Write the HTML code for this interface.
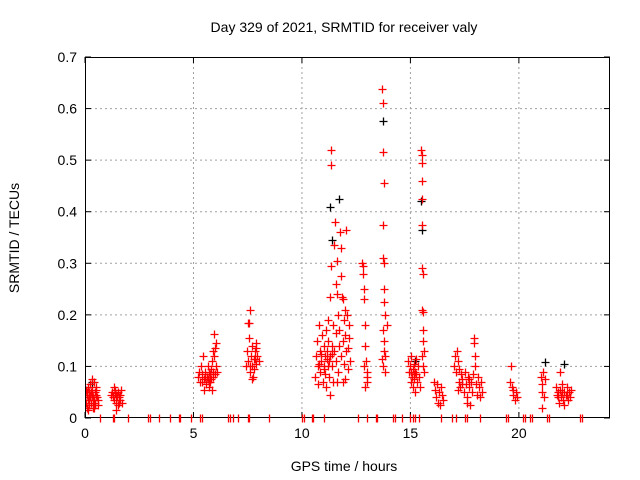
<!DOCTYPE html>
<html><head><meta charset="utf-8">
<style>
html,body{margin:0;padding:0;background:#fff;}
svg{display:block;font-family:"Liberation Sans",sans-serif;}
</style></head>
<body>
<svg id="chart" width="640" height="480">
<text x="344" y="32" text-anchor="middle" font-size="14">Day 329 of 2021, SRMTID for receiver valy</text>
<text x="344" y="471" text-anchor="middle" font-size="14">GPS time / hours</text>
<text x="19" y="238" text-anchor="middle" font-size="14" transform="rotate(-90 19 238)">SRMTID / TECUs</text>
<g id="grid"></g><g id="marks"></g><g id="axes"></g><g id="zeros"></g>
</svg>
<script>
const xTicks=[0,5,10,15,20];
const yTicks=[0,0.1,0.2,0.3,0.4,0.5,0.6,0.7];
const yTickLabels=["0","0.1","0.2","0.3","0.4","0.5","0.6","0.7"];
const redPoints=[
[0.02,0.04],[0.05,0.03],[0.05,0.055],[0.08,0.045],[0.1,0.02],[0.12,0.06],[0.15,0.035],[0.18,0.05],[0.2,0.025],[0.22,0.04],[0.25,0.065],[0.28,0.03],[0.3,0.045],[0.32,0.055],[0.35,0.02],[0.38,0.04],[0.4,0.035],[0.42,0.07],[0.45,0.05],[0.48,0.03],[0.5,0.045],[0.52,0.06],[0.55,0.04],[0.58,0.025],[0.6,0.035],[0.15,0.015],[0.3,0.075],[0.4,0.02],[0.1,0.05],[0.2,0.04],[0.27,0.05],[0.35,0.035],[0.45,0.025],[0.5,0.055],[0.0,0.05],[0.25,0.045],
[1.2,0.045],[1.25,0.05],[1.3,0.04],[1.32,0.06],[1.35,0.035],[1.4,0.055],[1.42,0.045],[1.45,0.03],[1.5,0.05],[1.52,0.025],[1.55,0.04],[1.58,0.03],[1.62,0.035],[1.65,0.055],[1.7,0.03],[1.45,0.015],[1.38,0.048],[1.48,0.04],[1.6,0.045],
[5.2,0.08],[5.25,0.09],[5.3,0.07],[5.35,0.1],[5.4,0.085],[5.45,0.12],[5.5,0.075],[5.55,0.09],[5.6,0.065],[5.62,0.08],[5.65,0.1],[5.7,0.07],[5.72,0.06],[5.75,0.085],[5.8,0.095],[5.82,0.075],[5.85,0.11],[5.9,0.09],[5.92,0.13],[5.95,0.12],[5.98,0.085],[6.0,0.135],[6.02,0.145],[6.05,0.1],[6.08,0.09],[5.95,0.163],[5.5,0.055],[5.85,0.055],[5.4,0.07],[5.55,0.08],[5.7,0.09],[5.78,0.07],[5.65,0.075],[5.9,0.08],
[7.4,0.1],[7.45,0.13],[7.5,0.11],[7.55,0.155],[7.58,0.185],[7.6,0.21],[7.62,0.09],[7.65,0.12],[7.7,0.1],[7.72,0.14],[7.75,0.08],[7.78,0.115],[7.8,0.095],[7.85,0.13],[7.88,0.105],[7.9,0.145],[7.95,0.12],[8.0,0.11],[7.7,0.075],[7.9,0.135],[7.52,0.185],[7.6,0.1],[7.85,0.115],
[10.6,0.08],[10.65,0.12],[10.7,0.15],[10.72,0.1],[10.75,0.065],[10.8,0.18],[10.82,0.13],[10.85,0.09],[10.9,0.11],[10.92,0.16],[10.95,0.07],[11.0,0.14],[11.02,0.1],[11.05,0.12],[11.08,0.085],[11.1,0.17],[11.12,0.06],[11.15,0.13],[11.18,0.19],[11.2,0.1],[11.22,0.15],[11.25,0.08],[11.28,0.12],[11.3,0.235],[11.32,0.52],[11.35,0.49],[11.35,0.295],[11.38,0.14],[11.4,0.1],[11.42,0.18],[11.45,0.07],[11.48,0.13],[11.5,0.335],[11.52,0.38],[11.55,0.26],[11.55,0.165],[11.58,0.11],[11.6,0.305],[11.62,0.24],[11.65,0.09],[11.68,0.2],[11.7,0.14],[11.72,0.17],[11.75,0.36],[11.78,0.33],[11.8,0.275],[11.82,0.12],[11.85,0.235],[11.88,0.15],[11.9,0.23],[11.92,0.19],[11.95,0.105],[11.98,0.16],[12.0,0.21],[12.02,0.365],[12.05,0.13],[12.08,0.2],[12.1,0.135],[12.12,0.095],[12.15,0.155],[12.18,0.18],[12.2,0.11],[12.0,0.075],[11.3,0.045],[11.6,0.07],[11.9,0.07],[10.9,0.125],[11.0,0.095],[11.15,0.115],[11.25,0.11],[11.4,0.125],[10.8,0.105],
[12.75,0.3],[12.8,0.295],[12.82,0.28],[12.85,0.25],[12.88,0.23],[12.9,0.18],[12.92,0.14],[12.95,0.11],[12.98,0.09],[13.0,0.07],[12.85,0.1],[12.9,0.06],[13.0,0.08],
[13.7,0.638],[13.72,0.61],[13.75,0.516],[13.78,0.455],[13.72,0.375],[13.75,0.31],[13.8,0.3],[13.78,0.25],[13.8,0.225],[13.82,0.2],[13.75,0.17],[13.8,0.15],[13.78,0.13],[13.85,0.12],[13.7,0.115],[13.9,0.18],[13.75,0.1],[13.85,0.09],
[14.9,0.11],[14.95,0.09],[15.0,0.1],[15.02,0.07],[15.05,0.12],[15.08,0.08],[15.1,0.095],[15.12,0.06],[15.15,0.105],[15.18,0.085],[15.2,0.05],[15.22,0.09],[15.25,0.115],[15.3,0.07],[15.35,0.1],[15.4,0.08],[15.45,0.06],[15.5,0.52],[15.52,0.51],[15.55,0.495],[15.52,0.46],[15.55,0.425],[15.55,0.375],[15.52,0.29],[15.58,0.28],[15.55,0.21],[15.6,0.205],[15.58,0.17],[15.6,0.15],[15.62,0.13],[15.55,0.12],[15.6,0.1],[15.62,0.09],[15.05,0.09],[15.15,0.075],[15.25,0.085],
[16.1,0.07],[16.15,0.055],[16.2,0.04],[16.22,0.065],[16.25,0.03],[16.3,0.05],[16.35,0.025],[16.4,0.06],[16.45,0.045],[16.5,0.035],
[17.0,0.1],[17.05,0.12],[17.1,0.09],[17.15,0.13],[17.2,0.11],[17.22,0.07],[17.25,0.095],[17.3,0.06],[17.35,0.085],[17.4,0.075],[17.45,0.05],[17.5,0.09],[17.55,0.065],[17.6,0.04],[17.65,0.08],[17.7,0.06],[17.75,0.025],[17.8,0.07],[17.85,0.05],[17.9,0.085],[17.92,0.155],[17.95,0.145],[17.98,0.12],[18.0,0.1],[18.02,0.065],[18.05,0.045],[18.1,0.08],[18.15,0.06],[18.2,0.04],[18.25,0.07],[18.3,0.05],[17.2,0.055],[17.6,0.03],[17.4,0.065],[17.7,0.075],
[19.6,0.07],[19.65,0.1],[19.7,0.06],[19.72,0.045],[19.75,0.055],[19.8,0.035],[19.85,0.05],[19.9,0.04],
[21.0,0.08],[21.05,0.065],[21.08,0.05],[21.1,0.09],[21.15,0.04],[21.2,0.075],[21.05,0.02],[21.7,0.06],[21.75,0.045],[21.8,0.05],[21.85,0.03],[21.9,0.055],[21.95,0.04],[22.0,0.065],[22.05,0.035],[22.1,0.05],[22.15,0.045],[22.2,0.06],[22.25,0.035],[22.3,0.05],[22.35,0.04],[22.4,0.055],[22.1,0.025],[21.9,0.09],[21.8,0.04],[22.0,0.05],[22.2,0.045]
];
const blackPoints=[[0.3,0.07],[11.3,0.41],[11.4,0.345],[11.7,0.425],[13.75,0.575],[15.55,0.365],[15.5,0.42],[15.2,0.11],[21.2,0.108],[22.1,0.104]];
const zeroHours=[0.7,1.3,1.35,2.0,2.9,3.0,3.4,3.9,4.35,4.4,4.9,5.3,5.4,6.6,6.7,6.8,7.05,7.5,7.55,8.5,10.0,10.1,10.45,10.5,11.0,12.6,13.0,13.4,13.45,14.2,14.3,14.6,15.0,15.1,15.2,15.4,16.4,16.9,17.1,17.5,17.6,18.2,19.4,19.5,20.2,20.3,20.5,20.6,21.3,21.4,22.8,22.9];
const X0=85,X1=610,Y0=418,Y1=57,XMAX=24.2,YMAX=0.7;
function sx(h){return X0+(X1-X0)*h/XMAX;}
function sy(v){return Y0-(Y0-Y1)*v/YMAX;}
const NS="http://www.w3.org/2000/svg";
function mk(tag,attrs,parent){const e=document.createElementNS(NS,tag);for(const k in attrs)e.setAttribute(k,attrs[k]);parent.appendChild(e);return e;}
const grid=document.getElementById('grid'),marks=document.getElementById('marks'),axes=document.getElementById('axes'),zeros=document.getElementById('zeros');
const defs=mk('defs',{},document.getElementById('chart'));
const cp=mk('clipPath',{id:'pc'},defs);mk('rect',{x:X0,y:Y1,width:X1-X0,height:Y0-Y1},cp);
marks.setAttribute('clip-path','url(#pc)');
yTicks.forEach((t,i)=>{
  const y=sy(t);
  if(i>0&&i<yTicks.length-1){const g=mk('line',{x1:X0,x2:X1,y1:y,y2:y,stroke:'#a0a0a0','stroke-dasharray':'2,3','stroke-width':1},grid);
  
  }
  mk('line',{x1:X0,x2:X0+6,y1:y,y2:y,stroke:'#000'},axes);
  mk('line',{x1:X1,x2:X1-6,y1:y,y2:y,stroke:'#000'},axes);
  const l=mk('text',{x:X0-8,y:y+5,'text-anchor':'end','font-size':14},axes);l.textContent=yTickLabels[i];
  
  
});
xTicks.forEach(t=>{
  const x=sx(t);
  if(t>0){const g=mk('line',{x1:x,x2:x,y1:Y1,y2:Y0,stroke:'#a0a0a0','stroke-dasharray':'2,3','stroke-width':1},grid);
  
  }
  mk('line',{x1:x,x2:x,y1:Y0,y2:Y0-6,stroke:'#000'},axes);
  mk('line',{x1:x,x2:x,y1:Y1,y2:Y1+6,stroke:'#000'},axes);
  const l=mk('text',{x:x,y:Y0+20,'text-anchor':'middle','font-size':14},axes);l.textContent=String(t);
  
  
});
const frame=mk('rect',{x:X0+0.5,y:Y1+0.5,width:X1-X0-1,height:Y0-Y1-1,fill:'none',stroke:'#000','stroke-width':1},axes);


function plus(h,v,col,name,parent,armsH){
  const x=Math.round(sx(h))+0.5,y=Math.round(sy(v))+0.5;
  const d=armsH?`M${x-4},${y}H${x+4}M${x},${y-4}V${y+4}`:`M${x},${y-4}V${y+4}`;
  const p=mk('path',{d:d,stroke:col,'stroke-width':1.3,fill:'none'},parent);
  
  
}
blackPoints.forEach(p=>plus(p[0],p[1],'#000000','black-point',marks,true));
redPoints.forEach(p=>plus(p[0],p[1],'#ff0000','red-point',marks,true));
zeroHours.forEach(h=>plus(h,0,'#ff0000','zero-point',zeros,false));
</script>
</body></html>
